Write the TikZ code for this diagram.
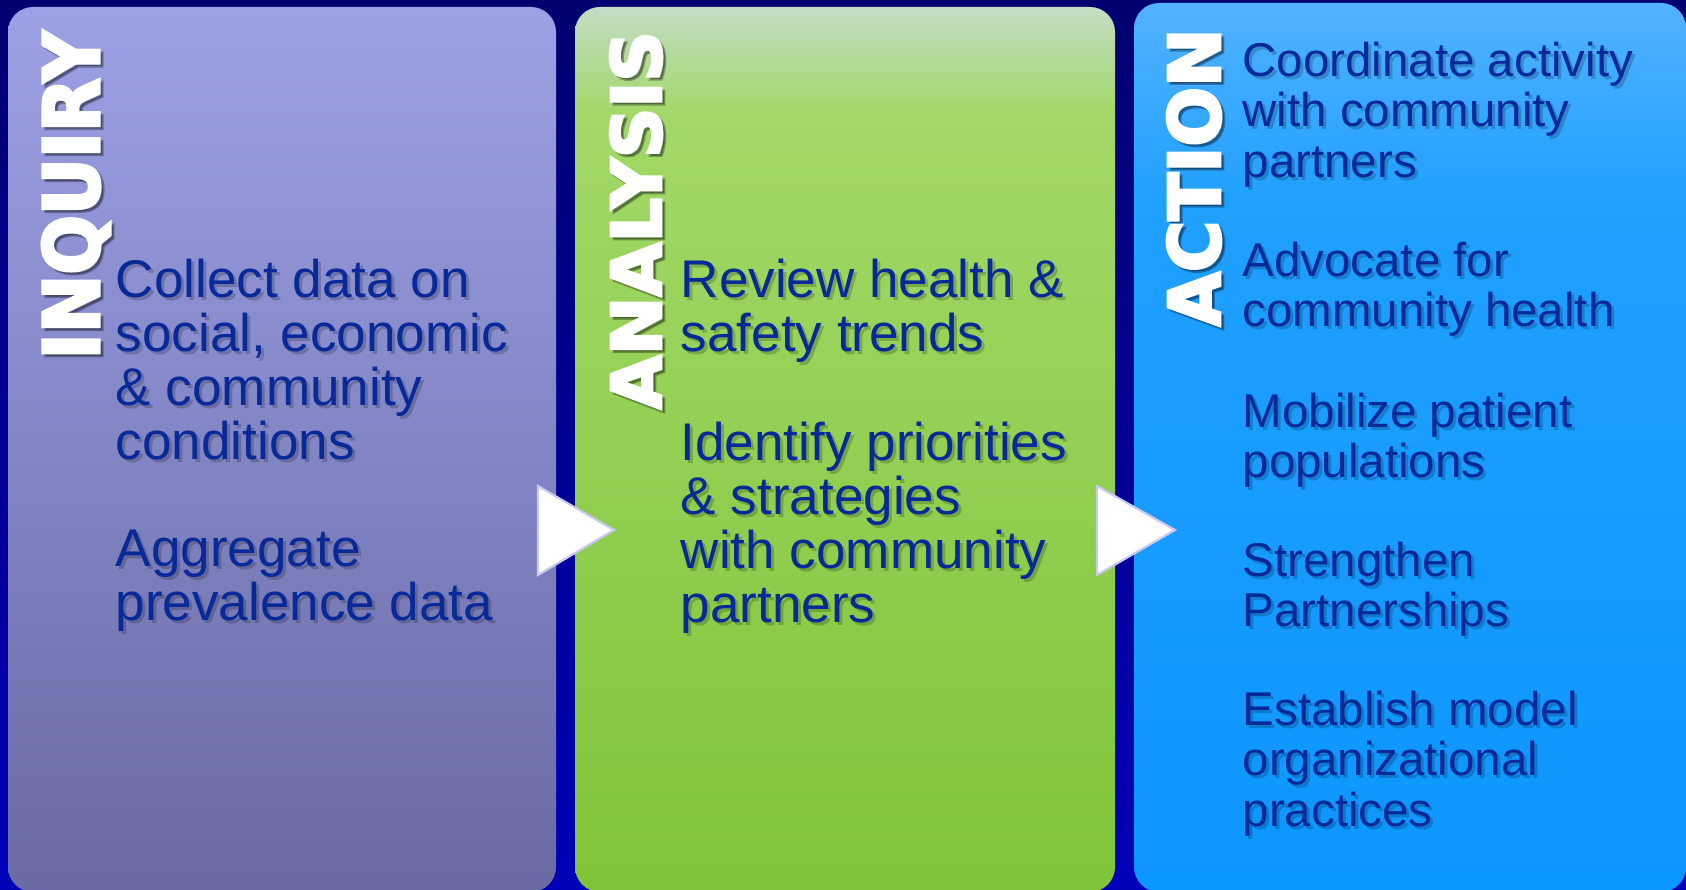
\documentclass[tikz,border=0pt]{standalone}
\usepackage{fontspec}
\setmainfont{Liberation Sans}
\newfontfamily\titlefont[FakeBold=4]{DejaVu Sans Bold}

\definecolor{bgtop}{RGB}{0,0,112}
\definecolor{bgbot}{RGB}{0,0,184}
\definecolor{inqtop}{RGB}{156,161,229}
\definecolor{inqbot}{RGB}{105,106,164}
\definecolor{anatop}{RGB}{196,220,198}
\definecolor{anamid}{RGB}{162,216,104}
\definecolor{anabot}{RGB}{127,196,56}
\definecolor{acttop}{RGB}{82,178,255}
\definecolor{actmid}{RGB}{32,160,255}
\definecolor{actbot}{RGB}{12,150,255}
\definecolor{inktext}{RGB}{8,42,152}
\definecolor{lavedge}{RGB}{200,200,240}

\pgfdeclareverticalshading{anafade}{100bp}{color(0bp)=(anabot); color(25bp)=(anabot); color(69bp)=(anamid); color(75bp)=(anatop); color(100bp)=(anatop)}
\pgfdeclareverticalshading{actfade}{100bp}{color(0bp)=(actbot); color(25bp)=(actbot); color(64bp)=(actmid); color(75bp)=(acttop); color(100bp)=(acttop)}

\begin{document}
\begin{tikzpicture}[
  panel/.style={rounded corners=0.25cm},
  body/.style={text=inktext, align=left, inner sep=0pt, anchor=north west,
    font=\fontsize{15.1}{15.4}\selectfont},
  small body/.style={body, font=\fontsize{13.5}{14.37}\selectfont},
  body shade/.style={text=black, text opacity=0.2},
  title/.style={text=white, inner sep=0pt, rotate=90, anchor=base west, font=\titlefont},
  title shade/.style={text=black, text opacity=0.3},
  step arrow/.style={fill=white, draw=lavedge, line width=0.6pt, line join=miter}
]
\useasboundingbox (0,0) rectangle (16.86,-8.90);
\shade[top color=bgtop, bottom color=bgbot] (0,0) rectangle (16.86,-8.90);

% three panels
\shade[panel, top color=inqtop, bottom color=inqbot] (0.08,-0.07) rectangle (5.56,-8.92);
\shade[panel, shading=anafade] (5.75,-0.07) rectangle (11.15,-8.92);
\shade[panel, shading=actfade] (11.34,-0.03) rectangle (16.86,-8.92);

% step arrows
\filldraw[step arrow] (5.38,-4.86) -- (6.14,-5.30) -- (5.38,-5.75) -- cycle;
\filldraw[step arrow] (10.97,-4.86) -- (11.75,-5.30) -- (10.97,-5.75) -- cycle;

% titles
\node[title, title shade] (inqtitles) at (1.02,-3.63) {\resizebox{3.28cm}{0.57cm}{INQUIRY}};
\node[title] (inqtitle) at (0.99,-3.60) {\resizebox{3.28cm}{0.57cm}{INQUIRY}};
\node[title, title shade] (anatitles) at (6.64,-4.13) {\resizebox{3.78cm}{0.51cm}{ANALYSIS}};
\node[title] (anatitle) at (6.61,-4.10) {\resizebox{3.78cm}{0.51cm}{ANALYSIS}};
\node[title, title shade] (acttitles) at (12.23,-3.30) {\resizebox{2.98cm}{0.53cm}{ACTION}};
\node[title] (acttitle) at (12.20,-3.27) {\resizebox{2.98cm}{0.53cm}{ACTION}};

% inquiry
\node[body, body shade] (inq1s) at (1.18,-2.61) {Collect data on\\social, economic\\\& community\\conditions};
\node[body] (inq1) at (1.15,-2.58) {Collect data on\\social, economic\\\& community\\conditions};
\node[body, body shade] (inq2s) at (1.18,-5.32) {Aggregate\\prevalence data};
\node[body] (inq2) at (1.15,-5.29) {Aggregate\\prevalence data};

% analysis
\node[body, body shade] (ana1s) at (6.83,-2.61) {Review health \&\\safety trends};
\node[body] (ana1) at (6.80,-2.58) {Review health \&\\safety trends};
\node[body, body shade] (ana2s) at (6.83,-4.24) {Identify priorities\\\& strategies\\with community\\partners};
\node[body] (ana2) at (6.80,-4.21) {Identify priorities\\\& strategies\\with community\\partners};

% action
\node[small body, body shade] (act1s) at (12.45,-0.44) {Coordinate activity\\with community\\partners};
\node[small body] (act1) at (12.42,-0.41) {Coordinate activity\\with community\\partners};
\node[small body, body shade] (act2s) at (12.45,-2.44) {Advocate for\\community health};
\node[small body] (act2) at (12.42,-2.41) {Advocate for\\community health};
\node[small body, body shade] (act3s) at (12.45,-3.95) {Mobilize patient\\populations};
\node[small body] (act3) at (12.42,-3.92) {Mobilize patient\\populations};
\node[small body, body shade] (act4s) at (12.45,-5.44) {Strengthen\\Partnerships};
\node[small body] (act4) at (12.42,-5.41) {Strengthen\\Partnerships};
\node[small body, body shade] (act5s) at (12.45,-6.93) {Establish model\\organizational\\practices};
\node[small body] (act5) at (12.42,-6.90) {Establish model\\organizational\\practices};
\end{tikzpicture}
\end{document}
